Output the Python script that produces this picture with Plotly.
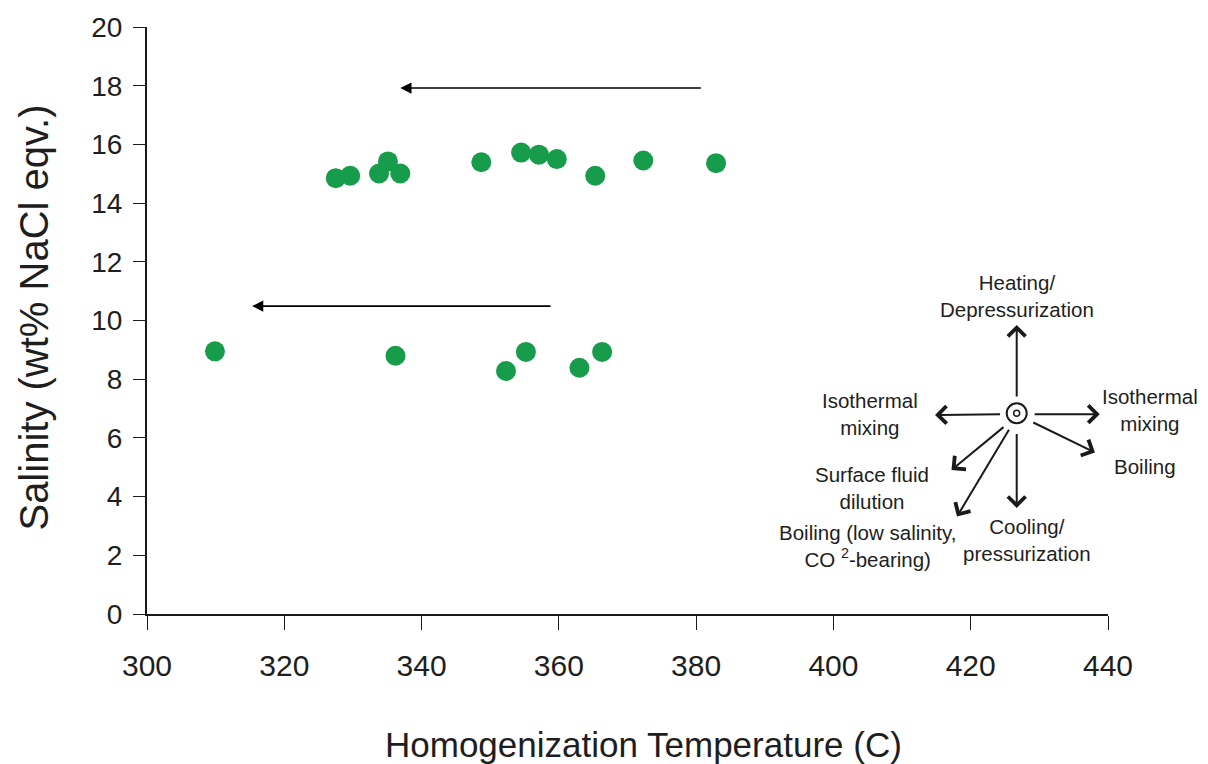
import plotly.graph_objects as go

# ---- data ----
upper_temp = [327.5, 329.6, 333.8, 335.1, 336.9, 348.7, 354.5, 357.1, 359.7, 365.3, 372.3, 382.9]
upper_sal = [14.85, 14.93, 15.01, 15.42, 15.01, 15.39, 15.72, 15.65, 15.50, 14.93, 15.45, 15.36]
lower_temp = [309.9, 336.2, 352.3, 355.2, 363.0, 366.3]
lower_sal = [8.95, 8.80, 8.28, 8.93, 8.39, 8.93]

x_ticks = [300, 320, 340, 360, 380, 400, 420, 440]
y_ticks = [0, 2, 4, 6, 8, 10, 12, 14, 16, 18, 20]

# trend arrows (tail -> head)
trend_tail_x = [380.9, 359.0]
trend_head_x = [336.9, 315.3]
trend_y = [17.92, 10.49]

GREEN = "#169c4a"
FONT = "Liberation Sans, Arial, sans-serif"
TXT = "#1e1e1e"

fig = go.Figure()
fig.add_trace(go.Scatter(x=upper_temp + lower_temp, y=upper_sal + lower_sal, mode="markers",
                         marker=dict(size=20, color=GREEN, line=dict(width=0)),
                         showlegend=False, hoverinfo="x+y", cliponaxis=False))

ann = []
for tx, hx, y in zip(trend_tail_x, trend_head_x, trend_y):
    ann.append(dict(x=hx, y=y, ax=tx, ay=y, xref="x", yref="y", axref="x", ayref="y",
                    showarrow=True, arrowhead=2, arrowsize=1.4, arrowwidth=1.6,
                    arrowcolor="black", text=""))

# process diagram (vector legend)
cx, cy = 426.7, 6.84
diag = [  # (tail x, tail y, head x, head y)
    (426.7, 7.36, 426.7, 9.85),
    (424.5, 6.81, 414.8, 6.78),
    (429.1, 6.81, 438.8, 6.81),
    (426.7, 6.18, 426.7, 3.61),
    (428.9, 6.55, 438.1, 5.50),
    (425.0, 6.41, 417.2, 4.91),
    (425.7, 6.33, 418.0, 3.32),
]
for tx, ty, hx, hy in diag:
    ann.append(dict(x=hx, y=hy, ax=tx, ay=ty, xref="x", yref="y", axref="x", ayref="y",
                    showarrow=True, arrowhead=4, arrowsize=1.7, arrowwidth=2,
                    arrowcolor="#1a1a1a", text=""))

LFONT = dict(family=FONT, size=20.5, color=TXT)
labels = [
    (426.7, 10.85, "Heating/<br>Depressurization"),
    (405.3, 6.81, "Isothermal<br>mixing"),
    (405.6, 4.30, "Surface fluid<br>dilution"),
    (404.9, 2.32, "Boiling (low salinity,<br>CO <sup>2</sup>-bearing)"),
    (428.2, 2.52, "Cooling/<br>pressurization"),
]
for x, y, t in labels:
    ann.append(dict(x=x, y=y, xref="x", yref="y", text=t, showarrow=False,
                    font=LFONT, align="center"))
# labels to the right of the axis range (paper coordinates)
for x, y, t in [(1.0437, 0.3475, "Isothermal<br>mixing"), (1.0385, 0.2509, "Boiling")]:
    ann.append(dict(x=x, y=y, xref="paper", yref="paper", xanchor="center", yanchor="middle",
                    text=t, showarrow=False, font=LFONT, align="center"))

# axis titles
ann.append(dict(x=0.517, y=-0.223, xref="paper", yref="paper", xanchor="center", yanchor="middle",
                text="Homogenization Temperature (C)",
                showarrow=False, font=dict(family=FONT, size=35, color=TXT)))
ann.append(dict(x=-0.1176, y=0.505, xref="paper", yref="paper", xanchor="center", yanchor="middle",
                text="Salinity (wt% NaCl eqv.)",
                textangle=-90, showarrow=False, font=dict(family=FONT, size=40, color=TXT)))

shapes = [
    dict(type="circle", xref="x", yref="y", xsizemode="pixel", ysizemode="pixel",
         xanchor=cx, yanchor=cy, x0=-10, x1=10, y0=-10, y1=10,
         line=dict(color="#1a1a1a", width=2)),
    dict(type="circle", xref="x", yref="y", xsizemode="pixel", ysizemode="pixel",
         xanchor=cx, yanchor=cy, x0=-3, x1=3, y0=-3, y1=3,
         line=dict(color="#1a1a1a", width=1.5)),
]

fig.update_layout(
    width=1208, height=764,
    margin=dict(l=139, r=108, t=19, b=158),
    paper_bgcolor="white", plot_bgcolor="white",
    showlegend=False,
    annotations=ann, shapes=shapes,
    font=dict(family=FONT, color=TXT),
)
fig.update_xaxes(range=[300, 440], tickvals=x_ticks, showgrid=False, zeroline=False,
                 showline=True, linecolor="#1a1a1a", linewidth=2, automargin=False,
                 ticks="outside", ticklen=14, tickwidth=1.3, tickcolor="#1a1a1a",
                 tickfont=dict(family=FONT, size=30, color=TXT), ticklabelstandoff=10)
fig.update_yaxes(range=[0, 20], tickvals=y_ticks, showgrid=False, zeroline=False,
                 showline=True, linecolor="#1a1a1a", linewidth=2, automargin=False,
                 ticks="outside", ticklen=12, tickwidth=1.3, tickcolor="#1a1a1a",
                 tickfont=dict(family=FONT, size=28, color=TXT), ticklabelstandoff=5)

fig.write_html("out.html")
